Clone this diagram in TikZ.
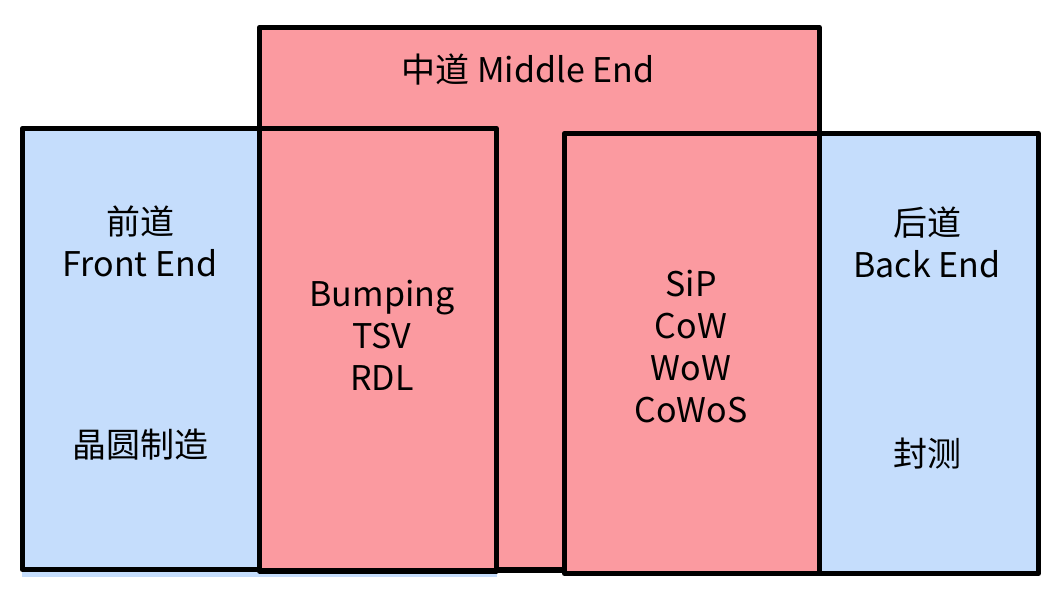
\documentclass[tikz,border=0pt]{standalone}
\usepackage{fontspec}
\setmainfont{Noto Sans CJK SC}
\usepackage{xcolor}
\usetikzlibrary{positioning}
\definecolor{pinkfill}{RGB}{251,154,160}
\definecolor{bluefill}{RGB}{197,221,252}

\begin{document}
\begin{tikzpicture}[x=0.5pt, y=-0.5pt,
    box/.style={draw=black, line width=2.6pt, line join=round},
    lbl/.style={align=center, inner sep=0pt, font=\fontsize{17}{21}\selectfont}]
  \useasboundingbox (0,0) rectangle (1061,598);
  \fill[bluefill] (22,128) rectangle (497,577);
  \draw[box, fill=bluefill] (22.5,128.5) rectangle (259.5,569.5);
  \draw[box, fill=bluefill] (819.5,133.5) rectangle (1038.5,573.5);
  \draw[box, fill=pinkfill] (259.5,27.5) rectangle (819.5,570);
  \draw[box, fill=pinkfill] (259.5,128.5) rectangle (496.5,571);
  \draw[box, fill=pinkfill] (564.5,133.5) rectangle (819.5,573.5);
%  \draw[box] (22.5,569.5) -- (496.5,571);
  \node[lbl] (mid) at (528,70) {中道 Middle End};
  \node[lbl] (front) at (140,241) {前道\\Front End};
  \node[lbl] (wafer) at (140,445) {晶圆制造};
  \node[lbl] (bump) at (382,335) {Bumping\\TSV\\RDL};
  \node[lbl] (sip) at (691,347) {SiP\\CoW\\WoW\\CoWoS};
  \node[lbl] (back) at (927,242) {后道\\Back End};
  \node[lbl] (test) at (927,454) {封测};
\end{tikzpicture}
\end{document}
